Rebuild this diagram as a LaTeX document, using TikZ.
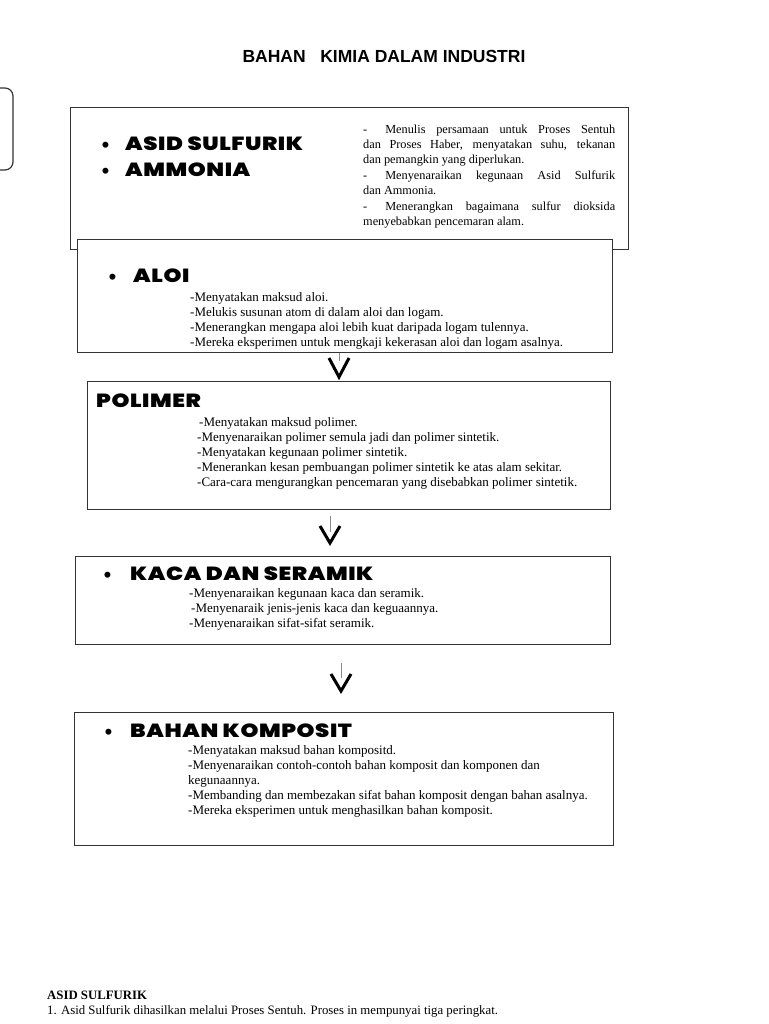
\documentclass[tikz,border=0pt]{standalone}
\usepackage{fontspec}
\setmainfont{Liberation Serif}
\newfontfamily\titlefont{Liberation Sans}
\newfontfamily\heavyfont[FakeStretch=1.2, LetterSpace=3]{Poppins Black}
\newfontfamily\bulfont{DejaVu Sans}
\usetikzlibrary{calc}
\begin{document}
\begin{tikzpicture}[x=1pt,y=-1pt,
  box/.style={draw=black!80, line width=1.2pt, fill=white, inner sep=0pt, anchor=north west},
  head/.style={font=\heavyfont\fontsize{19}{21}\selectfont, text=black, inner sep=0pt, anchor=base west},
  bul/.style={font=\bulfont\bfseries\fontsize{17}{18}\selectfont, inner sep=0pt, anchor=base west},
  body/.style={font=\fontsize{13}{15}\selectfont, align=left, inner sep=0pt, anchor=north west},
  stem/.style={draw=black!45, line width=0.8pt},
  vhead/.style={draw=black, line width=3pt, line join=miter}]
\useasboundingbox (0,0) rectangle (768,1024);
\fill[white] (0,0) rectangle (768,1024);

% title
\node[font=\titlefont\bfseries\fontsize{17.5}{19}\selectfont, inner sep=0pt, anchor=base] (title) at (384,63) {BAHAN\ \ \ KIMIA DALAM INDUSTRI};

% left partial rounded box
\draw[black!80, line width=1.2pt, rounded corners=8pt] (-20,88) rectangle (13,170);

% box 1
\node[box, minimum width=558pt, minimum height=142pt] (b1) at (70,107) {};
\node[bul] (u1) at (100,152) {•};
\node[head] (h1) at (125,151) {ASID SULFURIK};
\node[bul] (u2) at (100,178) {•};
\node[head] (h2) at (125,177) {AMMONIA};
\node[font=\fontsize{12.3}{15}\selectfont, text width=252pt, align=justify, inner sep=0pt, anchor=north west] (r1) at (363,125) {%
-\hspace{18pt}Menulis persamaan untuk Proses Sentuh\linebreak dan Proses Haber, menyatakan suhu, tekanan\linebreak dan pemangkin yang diperlukan.\par\vspace{1pt}
-\hspace{18pt}Menyenaraikan kegunaan Asid Sulfurik\linebreak dan Ammonia.\par\vspace{1pt}
-\hspace{18pt}Menerangkan bagaimana sulfur dioksida\linebreak menyebabkan pencemaran alam.};

% box 2
\node[box, minimum width=535pt, minimum height=113pt] (b2) at (77,239) {};
\node[bul] (u3) at (107,283) {•};
\node[head] (h3) at (133,282) {ALOI};
\node[body] (t3) at (190,292) {-Menyatakan maksud aloi.\\-Melukis susunan atom di dalam aloi dan logam.\\-Menerangkan mengapa aloi lebih kuat daripada logam tulennya.\\-Mereka eksperimen untuk mengkaji kekerasan aloi dan logam asalnya.};

% box 3
\node[box, minimum width=523pt, minimum height=128pt] (b3) at (87,381) {};
\node[head] (h4) at (96,407) {POLIMER};
\node[body] (t4) at (197,417) {\hspace{2pt}-Menyatakan maksud polimer.\\-Menyenaraikan polimer semula jadi dan polimer sintetik.\\-Menyatakan kegunaan polimer sintetik.\\-Menerankan kesan pembuangan polimer sintetik ke atas alam sekitar.\\-Cara-cara mengurangkan pencemaran yang disebabkan polimer sintetik.};

% box 4
\node[box, minimum width=535pt, minimum height=88pt] (b4) at (75,556) {};
\node[bul] (u5) at (102,581) {•};
\node[head] (h5) at (130,580) {KACA DAN SERAMIK};
\node[body] (t5) at (189,588) {-Menyenaraikan kegunaan kaca dan seramik.\\\hspace{2pt}-Menyenaraik jenis-jenis kaca dan keguaannya.\\-Menyenaraikan sifat-sifat seramik.};

% box 5
\node[box, minimum width=539pt, minimum height=133pt] (b5) at (74,712) {};
\node[bul] (u6) at (103,738) {•};
\node[head] (h6) at (130,737) {BAHAN KOMPOSIT};
\node[body] (t6) at (188,745) {-Menyatakan maksud bahan kompositd.\\-Menyenaraikan contoh-contoh bahan komposit dan komponen dan\\kegunaannya.\\-Membanding dan membezakan sifat bahan komposit dengan bahan asalnya.\\-Mereka eksperimen untuk menghasilkan bahan komposit.};

% arrows
\coordinate (p1) at (339,377);
\draw[stem] (p1 |- b2.south) -- ++(0,8);
\draw[vhead] ($(p1)+(-10,-19)$) -- (p1) -- ($(p1)+(10,-19)$);

\coordinate (p2) at (330,543);
\draw[stem] (p2 |- b3.south) ++(0,6) -- ++(0,16);
\draw[vhead] ($(p2)+(-10,-17)$) -- (p2) -- ($(p2)+(10,-17)$);

\coordinate (p3) at (341,691);
\draw[stem] ($(p3)+(0,-28)$) -- ($(p3)+(0,-13)$);
\draw[vhead] ($(p3)+(-10,-17)$) -- (p3) -- ($(p3)+(10,-17)$);

% bottom text
\node[font=\bfseries\fontsize{12.8}{15}\selectfont, inner sep=0pt, anchor=base west] (bt1) at (47,999) {ASID SULFURIK};
\node[font=\fontsize{12.8}{15}\selectfont, inner sep=0pt, anchor=base west] (bt2) at (47,1014) {1. Asid Sulfurik dihasilkan melalui Proses Sentuh. Proses in mempunyai tiga peringkat.};
\end{tikzpicture}
\end{document}
